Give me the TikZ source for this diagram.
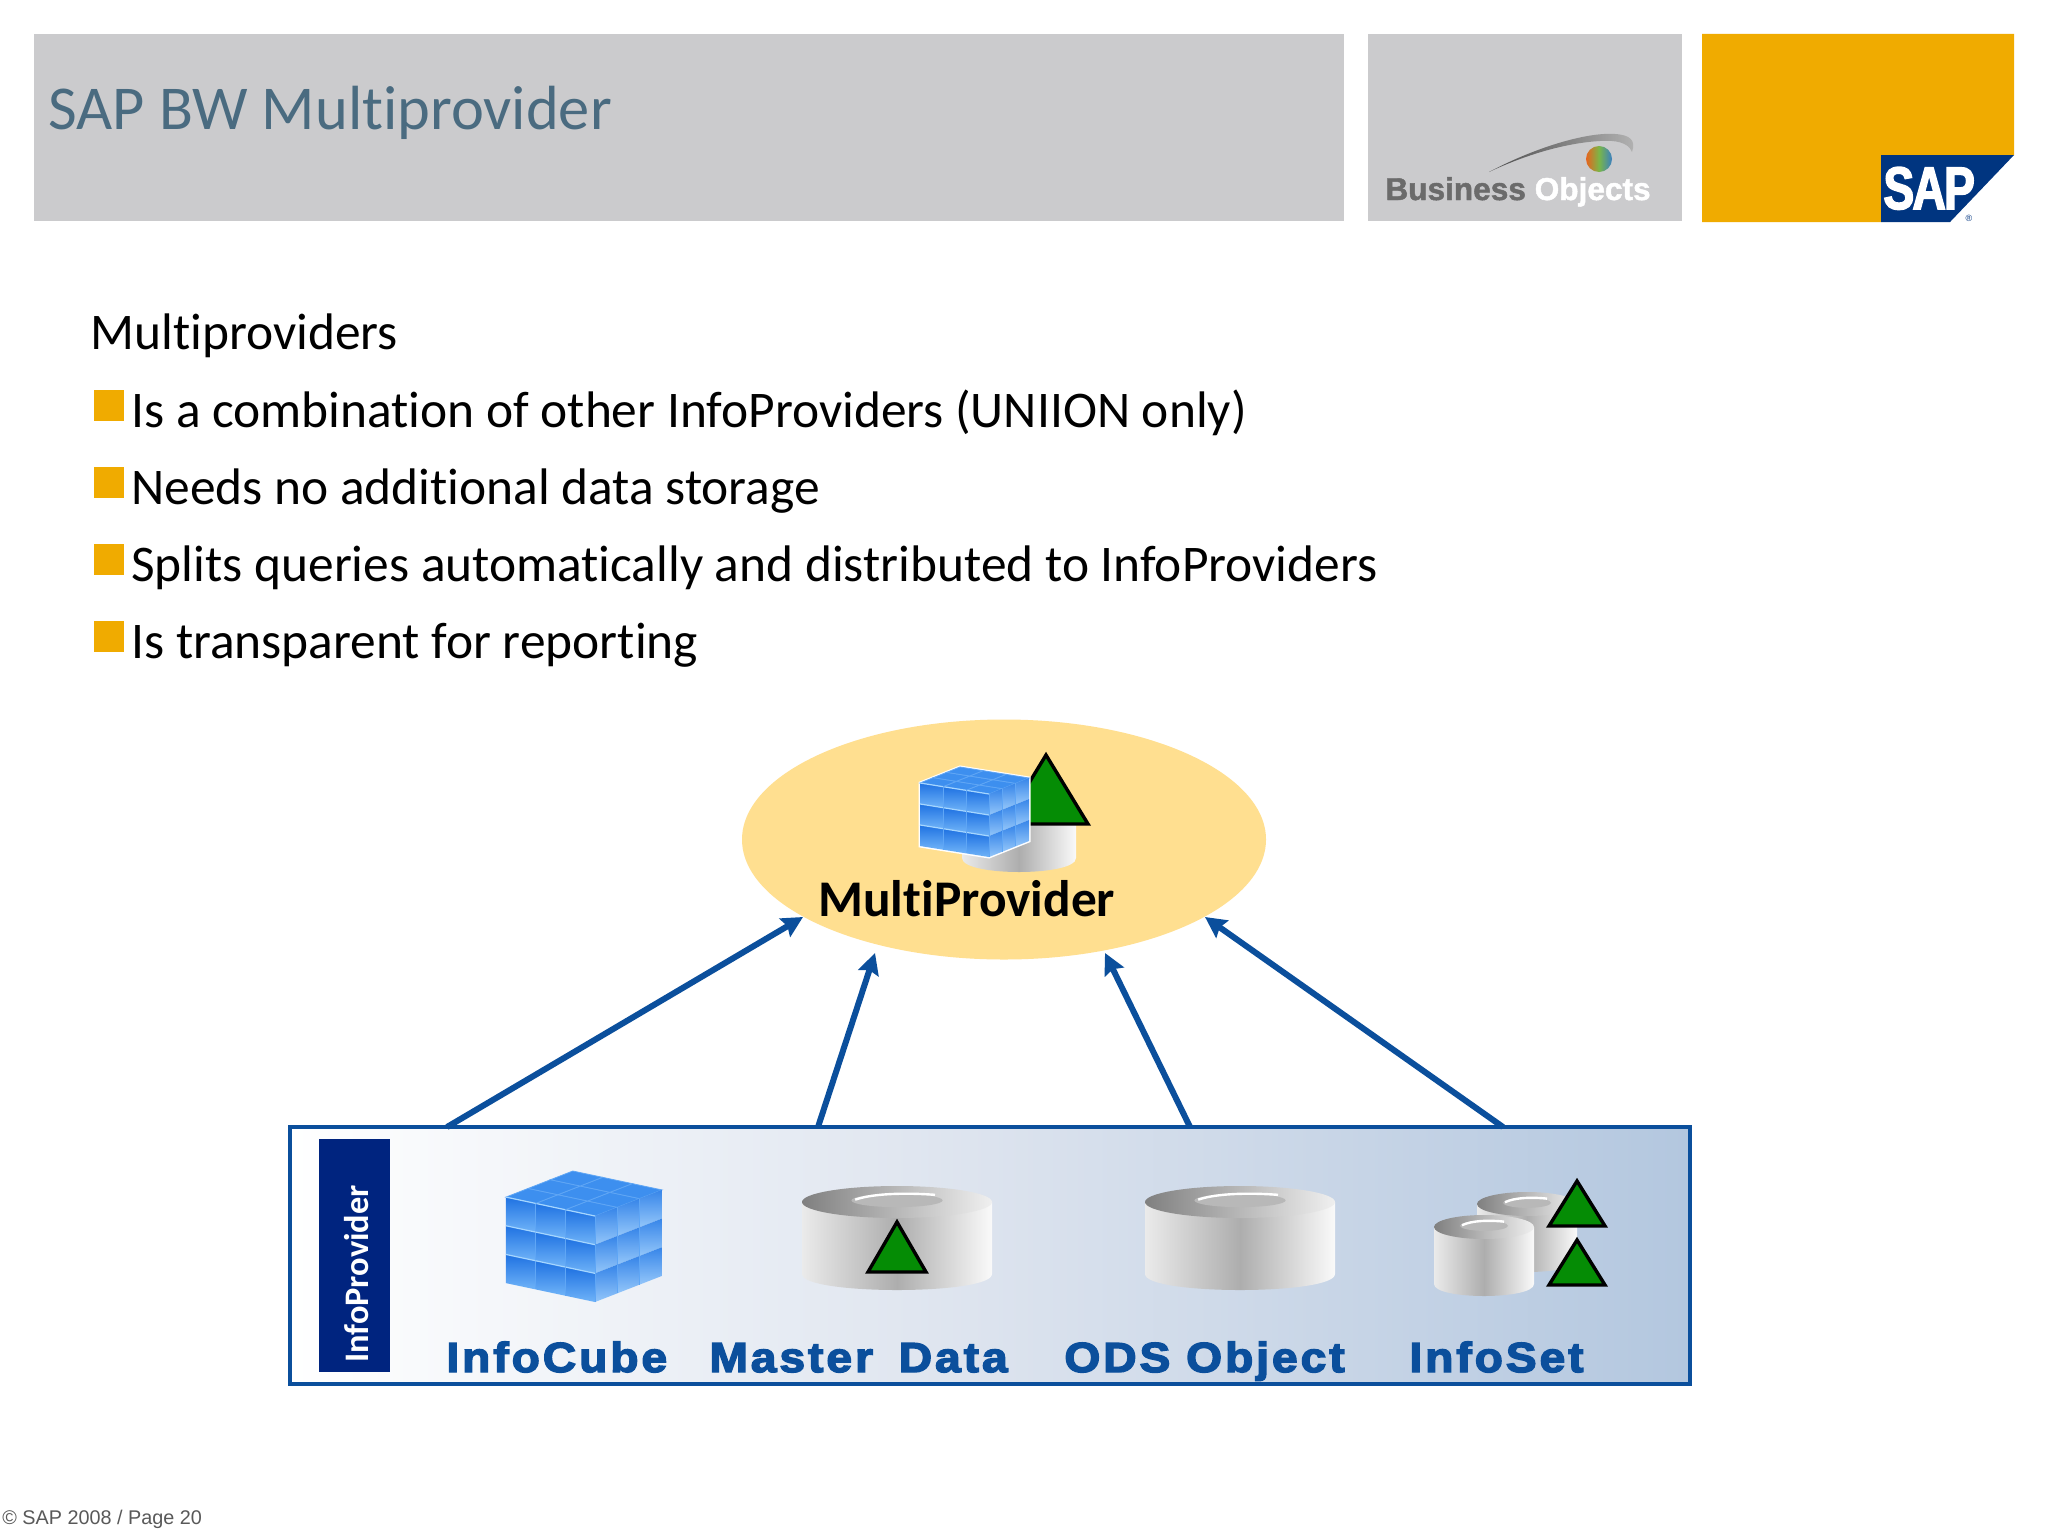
\documentclass[tikz,border=0pt]{standalone}
\usepackage{fontspec}
\usetikzlibrary{arrows.meta,shapes.geometric}
\setmainfont{Carlito}[Ligatures=NoCommon]
\newfontfamily\heavy{Liberation Sans}[BoldFeatures={FakeBold=3.4,FakeStretch=1.1,LetterSpace=7}]
\newfontfamily\logofont{Liberation Sans}[BoldFeatures={FakeBold=1.5}]
\newfontfamily\sapfont{Liberation Sans}[BoldFeatures={FakeBold=2.5,FakeStretch=0.77,LetterSpace=-3}]
\newfontfamily\footfont{Liberation Sans}
\definecolor{hdgray}{HTML}{CBCBCD}
\definecolor{sapgold}{HTML}{F0AB00}
\definecolor{sapnavy}{HTML}{003580}
\definecolor{barnavy}{HTML}{00247F}
\definecolor{linkblue}{HTML}{0B4F9C}
\definecolor{titlecol}{HTML}{4A6B80}
\definecolor{ovalcol}{HTML}{FFDF90}
\definecolor{trigreen}{HTML}{058C05}
\definecolor{cubetop}{HTML}{3D8FEF}
\definecolor{cubedark}{HTML}{1F72E2}
\definecolor{cubelight}{HTML}{6FB3F8}
\definecolor{cubeline}{HTML}{5FA6F5}
\definecolor{cubeedge}{HTML}{A5D6FF}
\definecolor{boxmid}{HTML}{DCE3EE}
\definecolor{boxright}{HTML}{B3C7DF}
\definecolor{balla}{HTML}{E8641E}
\definecolor{ballb}{HTML}{7AB648}
\definecolor{ballc}{HTML}{3A7FC1}
\tikzset{
  x=0.5pt,y=-0.5pt,
  body/.style={anchor=base west,inner sep=0pt,font=\fontsize{25.7}{30}\selectfont},
  itemmark/.style={fill=sapgold},
  tri/.style={fill=trigreen,draw=black,line width=1.7pt,line join=miter},
  kind/.style={anchor=base west,inner sep=0pt,text=linkblue,font=\heavy\bfseries\fontsize{21}{24}\selectfont},
  link/.style={draw=linkblue,line width=3pt,-{Stealth[length=10.5pt,width=10.5pt,inset=1.5pt]}},
}
% cylinder: x1, x2, y top of rim, y bottom, rim half height
\newcommand{\dbcyl}[5]{%
  \shade[left color=white!92!black,right color=white!98!black,middle color=black!32!white]
    (#1,{#3+#5}) -- (#1,{#4-#5}) .. controls (#1,{#4+#5/3}) and (#2,{#4+#5/3}) .. (#2,{#4-#5}) -- (#2,{#3+#5}) -- cycle;
  \shade[left color=black!50!white,right color=black!6!white]
    ({(#1+#2)/2},{#3+#5}) ellipse [x radius={(#2-#1)/2},y radius=#5];
  \fill[black!28!white] ({(#1+#2)/2},{#3+#5*0.9}) ellipse [x radius={(#2-#1)*0.24},y radius={#5*0.42}];
  \draw[white,line width=1.2pt] ({(#1+#2)/2-(#2-#1)*0.22},{#3+#5*0.85}) .. controls ({(#1+#2)/2-(#2-#1)*0.12},{#3+#5*0.45}) and ({(#1+#2)/2+(#2-#1)*0.05},{#3+#5*0.42}) .. ({(#1+#2)/2+(#2-#1)*0.2},{#3+#5*0.55});
}
% cube: front top corner x,y; left step x,y; right step x,y; height
\newcommand{\ccube}[7]{%
  \foreach \i in {0,1,2}{\foreach \j in {0,1,2}{
    \fill[fill=cubetop,draw=cubeline,line width=.4pt]
      ({#1+\i*#3+\j*#5},{#2+\i*#4+\j*#6}) -- ({#1+(\i+1)*#3+\j*#5},{#2+(\i+1)*#4+\j*#6})
      -- ({#1+(\i+1)*#3+(\j+1)*#5},{#2+(\i+1)*#4+(\j+1)*#6}) -- ({#1+\i*#3+(\j+1)*#5},{#2+\i*#4+(\j+1)*#6}) -- cycle;
    \shade[top color=cubedark,bottom color=cubelight]
      ({#1+\i*#3},{#2+\i*#4+\j*#7/3}) -- ({#1+(\i+1)*#3},{#2+(\i+1)*#4+\j*#7/3})
      -- ({#1+(\i+1)*#3},{#2+(\i+1)*#4+(\j+1)*#7/3}) -- ({#1+\i*#3},{#2+\i*#4+(\j+1)*#7/3}) -- cycle;
    \draw[cubeline,line width=.4pt] ({#1+\i*#3},{#2+\i*#4+\j*#7/3}) -- ++(0,{#7/3});
    \draw[cubeedge,line width=.6pt] ({#1+\i*#3},{#2+\i*#4+\j*#7/3}) -- ({#1+(\i+1)*#3},{#2+(\i+1)*#4+\j*#7/3});
    \shade[top color=cubedark!70!cubelight,bottom color=cubelight!75!white]
      ({#1+\i*#5},{#2+\i*#6+\j*#7/3}) -- ({#1+(\i+1)*#5},{#2+(\i+1)*#6+\j*#7/3})
      -- ({#1+(\i+1)*#5},{#2+(\i+1)*#6+(\j+1)*#7/3}) -- ({#1+\i*#5},{#2+\i*#6+(\j+1)*#7/3}) -- cycle;
    \draw[cubeline,line width=.4pt] ({#1+\i*#5},{#2+\i*#6+\j*#7/3}) -- ++(0,{#7/3});
  }}%
}
\begin{document}
\begin{tikzpicture}
\useasboundingbox (0,0) rectangle (2048,1536);
\fill[white] (0,0) rectangle (2048,1536);
% header
\fill[hdgray] (34,34) rectangle (1344,221);
\fill[hdgray] (1368,34) rectangle (1682,221);
\fill[sapgold] (1702,34) -- (2014,34) -- (2014,155) -- (1881,155) -- (1881,222) -- (1702,222) -- cycle;
\fill[sapnavy] (1881,155) -- (2014,155) -- (1950,222) -- (1881,222) -- cycle;
\node[anchor=base west,inner sep=0pt,text=white,font=\sapfont\bfseries\fontsize{30}{32}\selectfont] (saptext) at (1883,209) {SAP};
\node[anchor=center,inner sep=0pt,text=sapnavy,font=\footfont\fontsize{4.5}{5}\selectfont] (sapreg) at (1969,218) {®};
\node[anchor=base west,inner sep=0pt,text=titlecol,font=\fontsize{31.2}{34}\selectfont] (title) at (48,129) {SAP BW Multiprovider};
% Business Objects logo
\shade[left color=black!70!white,right color=black!30!white]
  (1489,172) .. controls (1540,145) and (1590,132) .. (1615,134) .. controls (1630,135) and (1636,140) .. (1632,152)
  .. controls (1628,142) and (1615,140) .. (1600,141) .. controls (1565,143) and (1525,155) .. (1489,172) -- cycle;
\shade[left color=balla,right color=ballc,middle color=ballb] (1599,159) ellipse [x radius=13,y radius=13];
\node[anchor=base west,inner sep=0pt,font=\logofont\bfseries\fontsize{15.8}{16}\selectfont] (botext) at (1385,200) {\textcolor{black!58!white}{Business} \textcolor{white}{Objects}};
% body text
\node[body] (head) at (90,349) {Multiproviders};
\foreach \yy/\tt/\nm in {427/{Is a combination of other InfoProviders (UNIION only)}/b1,
  504/{Needs no additional data storage}/b2,
  581/{Splits queries automatically and distributed to InfoProviders}/b3,
  658/{Is transparent for reporting}/b4}{
  \fill[itemmark] (94,{\yy-37}) rectangle (124,{\yy-6});
  \node[body] (\nm) at (131,\yy) {\tt};
}
% MultiProvider oval
\node[ellipse,fill=ovalcol,minimum width=262pt,minimum height=120pt,inner sep=0pt] (multi) at (1004,839.5) {};
\dbcyl{962}{1076}{795}{872}{14}
\fill[ovalcol] (955,760) rectangle (1080,825);
\fill[tri] (1046,755) -- (1088,824) -- (1004,824) -- cycle;
\fill[white] (920,783) -- (960,767) -- (1029,778) -- (1029,841) -- (989,857) -- (920,846) -- cycle;
\draw[white,line width=1.5pt] (920,783) -- (960,767) -- (1029,778) -- (1029,841) -- (989,857) -- (920,846) -- cycle;
\ccube{989}{794}{-23}{-3.67}{13.33}{-5.33}{63}
\node[anchor=base west,inner sep=0pt,font=\bfseries\fontsize{25.7}{30}\selectfont] (multilabel) at (818,916) {MultiProvider};
% InfoProvider box
\node[rectangle,draw=linkblue,line width=1.7pt,minimum width=700pt,minimum height=128.5pt,inner sep=0pt,
  shade,left color=white,right color=boxright,middle color=boxmid] (provider) at (990,1255.5) {};
\node[rectangle,fill=barnavy,minimum width=35.5pt,minimum height=116.5pt,inner sep=0pt] (side) at (354.5,1255.5) {};
\node[rotate=90,text=white,inner sep=0pt,font=\bfseries\fontsize{17.2}{20}\selectfont] (sidelabel) at (357,1274) {InfoProvider};
% connectors
\coordinate (s1) at (447,1127); \coordinate (e1) at (803,917);
\coordinate (s2) at (818,1127); \coordinate (e2) at (875,953);
\coordinate (s3) at (1190,1127); \coordinate (e3) at (1105,953);
\coordinate (s4) at (1503,1127); \coordinate (e4) at (1205,917);
\draw[link] (s1) -- (e1);
\draw[link] (s2) -- (e2);
\draw[link] (s3) -- (e3);
\draw[link] (s4) -- (e4);
% icons in box
\ccube{595}{1216}{-29.7}{-6.3}{22.3}{-8.7}{86}
\dbcyl{802}{992}{1186}{1290}{16}
\fill[tri] (897,1222) -- (926,1272) -- (868,1272) -- cycle;
\dbcyl{1145}{1335}{1186}{1290}{16}
\dbcyl{1477}{1577}{1192}{1272}{12}
\dbcyl{1434}{1534}{1215}{1296}{12}
\fill[tri] (1577,1181) -- (1605,1226) -- (1549,1226) -- cycle;
\fill[tri] (1577,1240) -- (1605,1285) -- (1549,1285) -- cycle;
% labels
\node[kind] (l1) at (446,1372) {InfoCube};
\node[kind] (l2) at (709,1372) {Master\hspace{5pt} Data};
\node[kind] (l3) at (1064,1372) {ODS Object};
\node[kind] (l4) at (1409,1372) {InfoSet};
% footer
\node[anchor=base west,inner sep=0pt,text=black!65!white,font=\footfont\fontsize{9.9}{12}\selectfont] (foot) at (2,1524) {© SAP 2008 / Page 20};
\end{tikzpicture}
\end{document}
